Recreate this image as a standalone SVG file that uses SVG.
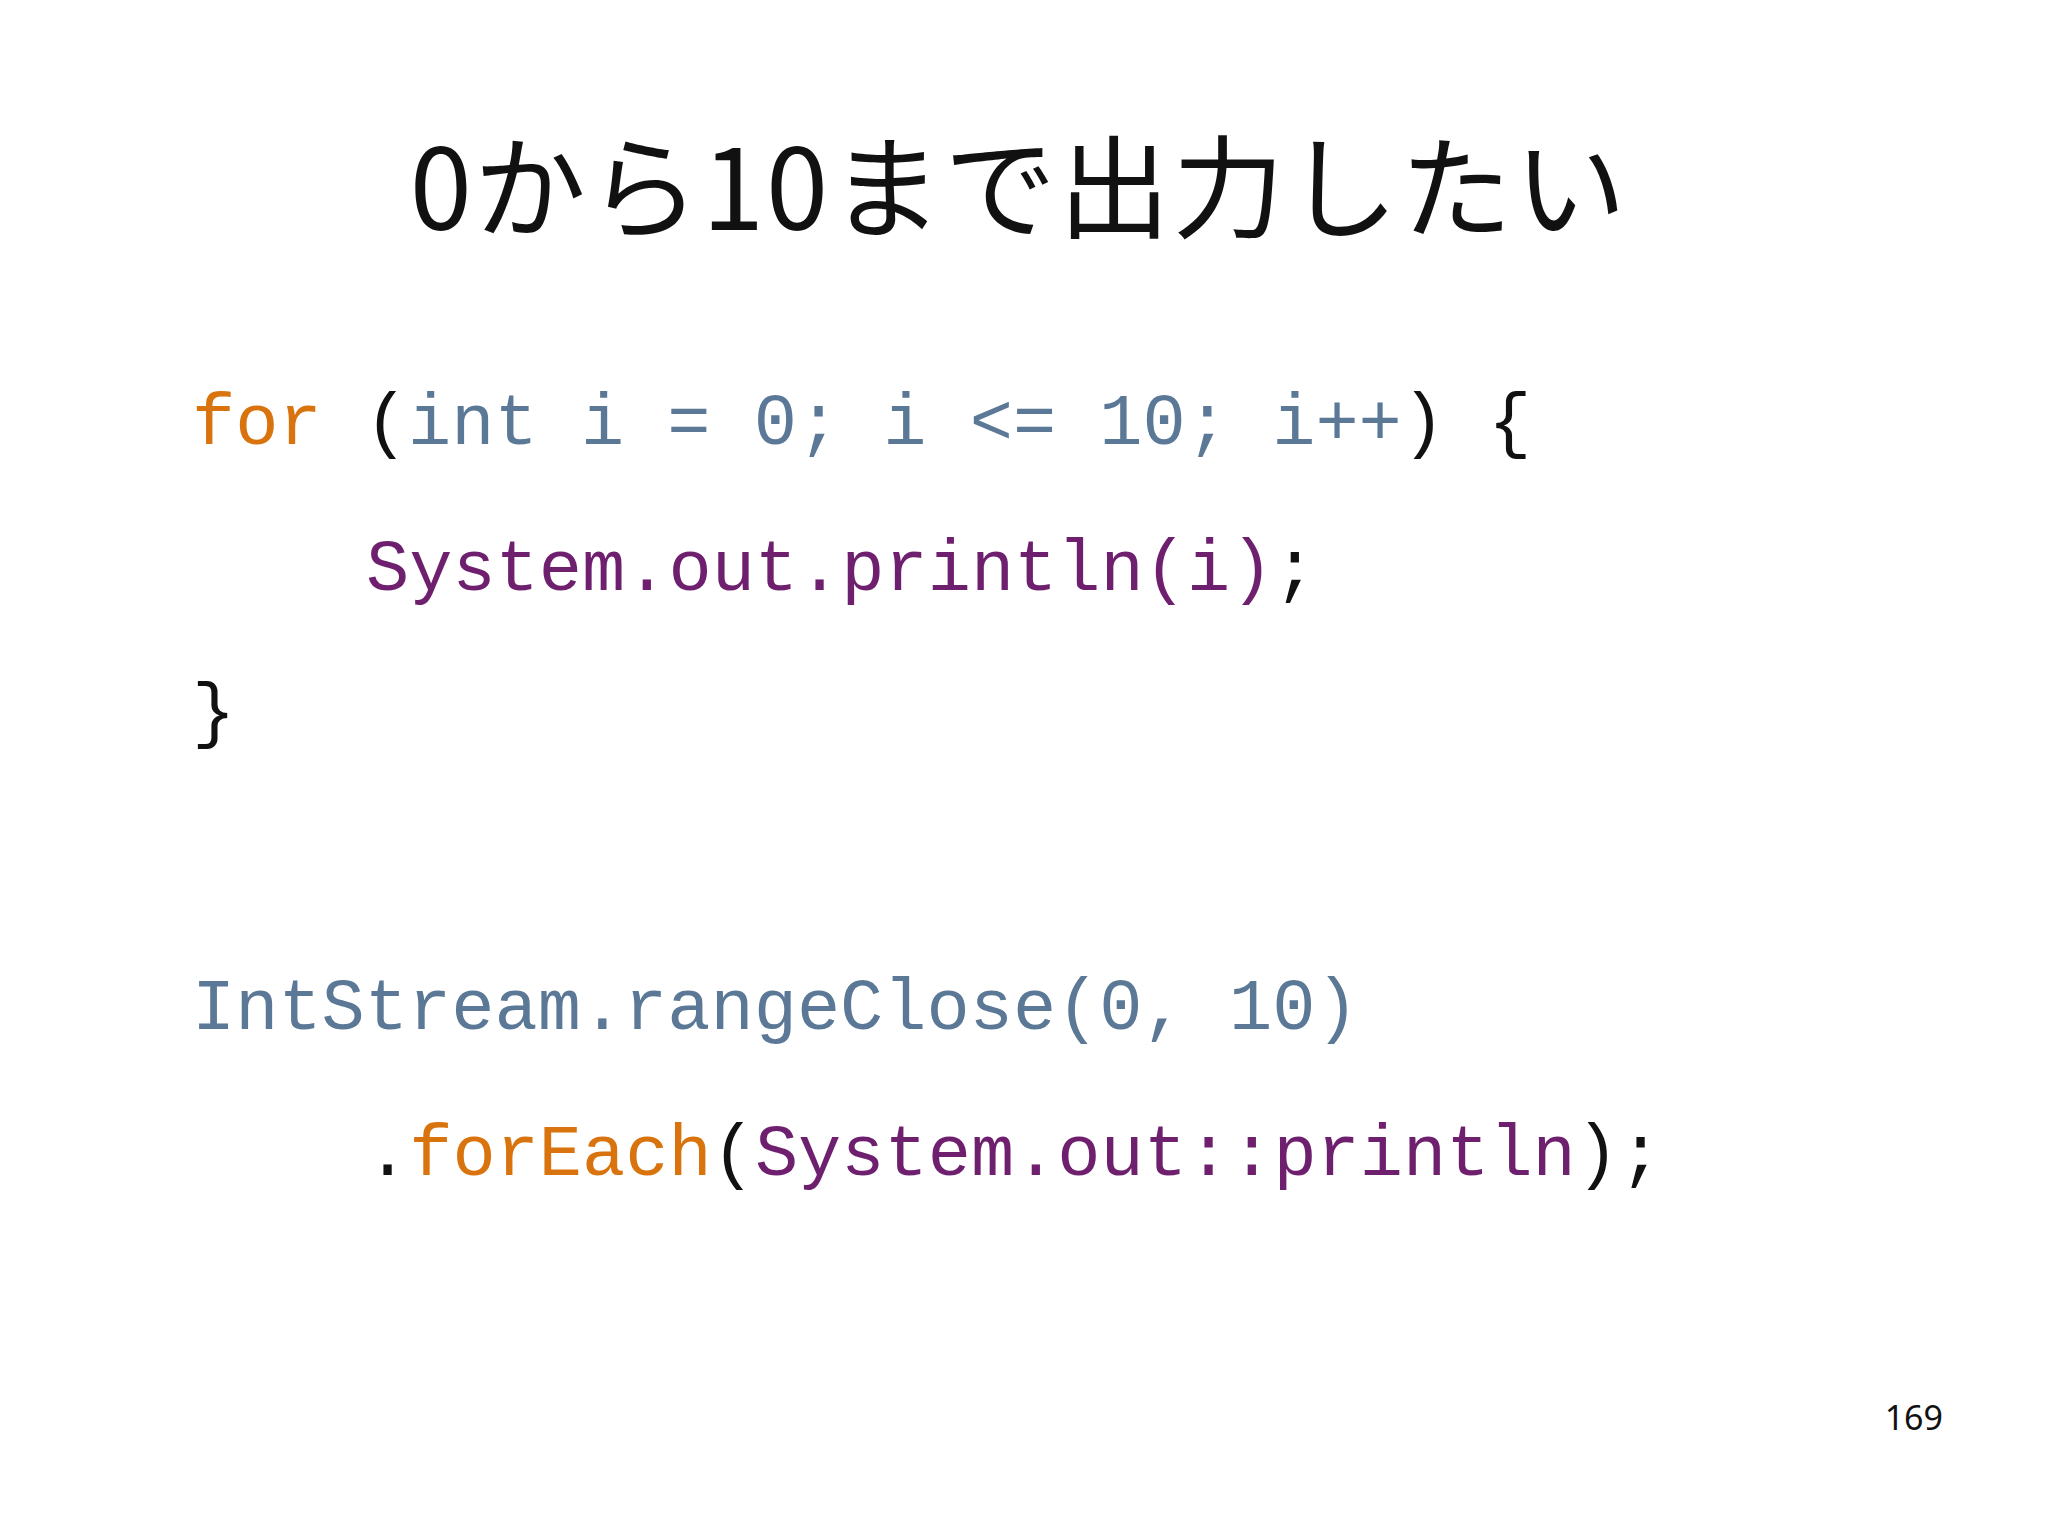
<svg xmlns="http://www.w3.org/2000/svg" width="2048" height="1535" viewBox="0 0 2048 1535" xml:space="preserve">
<style>
.c{font-family:"Liberation Mono","DejaVu Sans Mono",monospace;font-size:72px;fill:#111}
.k{fill:#d9730d}.b{fill:#5b7896}.p{fill:#6e1f6e}
</style>
<rect width="2048" height="1535" fill="#fff"/>
<g id="title"><text x="1019" y="230" text-anchor="middle" font-family="Noto Sans CJK JP, sans-serif" font-size="112" letter-spacing="2" fill="#111">0から10まで出力したい</text></g>
<g id="code1">
<text class="c" x="192" y="444"><tspan class="k">for</tspan> (<tspan class="b">int i = 0; i &lt;= 10; i++</tspan>) {</text>
<text class="c" x="366" y="590"><tspan class="p">System.out.println(i)</tspan>;</text>
<text class="c" x="192" y="734">}</text>
</g>
<g id="code2">
<text class="c b" x="192" y="1029">IntStream.rangeClose(0, 10)</text>
<text class="c" x="366" y="1175">.<tspan class="k">forEach</tspan>(<tspan class="p">System.out::println</tspan>);</text>
</g>
<g id="page"><text x="1943" y="1430" text-anchor="end" font-family="Noto Sans, sans-serif" font-size="34" fill="#111">169</text></g>
</svg>
